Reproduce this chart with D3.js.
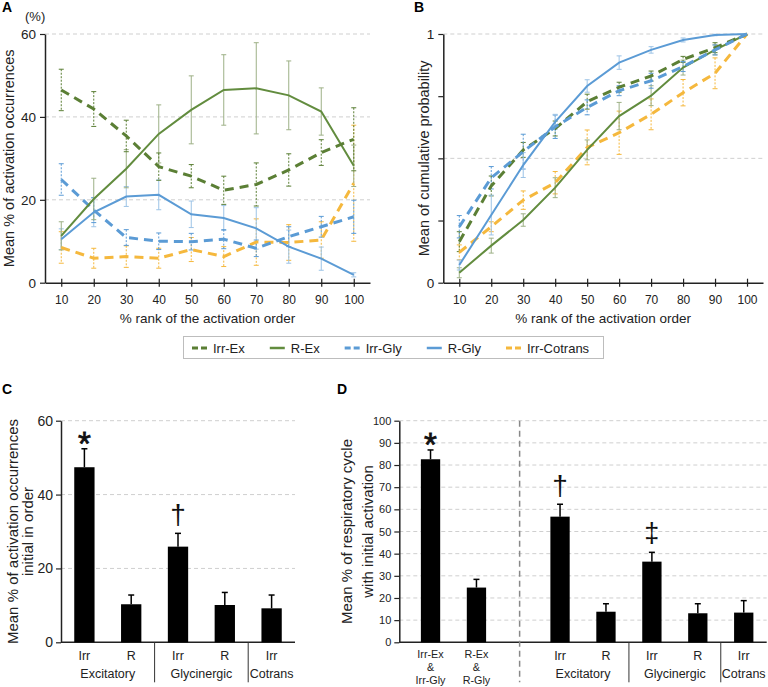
<!DOCTYPE html>
<html><head><meta charset="utf-8">
<script src="https://cdn.jsdelivr.net/npm/d3@7"></script>
<style>
body{margin:0;background:#fff;}
svg{display:block;font-family:'Liberation Sans',Arial,sans-serif;}
</style></head>
<body>
<svg id="c" width="768" height="687"></svg>
<script>
// ---------- DATA ----------
const ranks = [10,20,30,40,50,60,70,80,90,100];
const seriesNames = ["Irr-Ex","R-Ex","Irr-Gly","R-Gly","Irr-Cotrans"];

// Panel A: mean % of activation occurrences
const aIrrEx    = [46.5,41.9,35.4,28.0,25.7,22.3,23.7,27.2,31.4,34.6];
const aIrrExErr = [5.0,4.2,3.8,3.3,2.8,3.4,5.2,3.9,3.1,7.6];
const aREx      = [11.3,20.2,27.5,35.9,41.7,46.5,46.9,45.2,41.3,28.2];
const aRExErr   = [3.4,5.0,4.6,7.0,8.2,8.5,11.0,8.3,5.7,5.0];
const aIrrGly   = [24.9,17.5,10.9,10.0,9.9,10.5,8.3,11.1,13.5,15.9];
const aIrrGlyErr= [3.8,3.0,1.9,2.0,2.0,2.3,2.0,2.4,2.5,4.0];
const aRGly     = [10.5,17.0,20.8,21.2,16.5,15.6,13.1,8.7,5.8,1.9];
const aRGlyErr  = [2.5,3.5,2.4,3.6,3.2,3.0,5.0,4.0,2.8,0.5];
const aCot      = [8.5,5.9,6.3,5.9,8.0,6.3,9.8,9.7,10.3,24.0];
const aCotErr   = [3.8,2.4,2.6,2.4,2.9,2.4,5.6,4.3,4.4,14.0];

// Panel B: mean of cumulative probability
const bIrrEx    = [0.165,0.389,0.534,0.620,0.728,0.786,0.831,0.898,0.945,1];
const bIrrExErr = [0.04,0.04,0.03,0.03,0.03,0.02,0.02,0.012,0.02,0];
const bREx      = [0.040,0.149,0.252,0.382,0.534,0.670,0.752,0.865,0.936,1];
const bRExErr   = [0.02,0.03,0.025,0.04,0.04,0.055,0.04,0.03,0.02,0];
const bIrrGly   = [0.225,0.422,0.527,0.627,0.705,0.772,0.812,0.869,0.936,1];
const bIrrGlyErr= [0.045,0.045,0.07,0.047,0.03,0.02,0.03,0.02,0.02,0];
const bRGly     = [0.071,0.272,0.473,0.647,0.791,0.885,0.936,0.976,0.996,1];
const bRGlyErr  = [0.02,0.08,0.05,0.03,0.025,0.027,0.013,0.008,0.003,0];
const bCot      = [0.122,0.225,0.332,0.402,0.544,0.603,0.677,0.764,0.842,1];
const bCotErr   = [0.03,0.02,0.037,0.045,0.07,0.087,0.062,0.053,0.062,0];

// Panel C
const cSub    = ["Irr","R","Irr","R","Irr"];
const cGroups = ["Excitatory","Excitatory","Glycinergic","Glycinergic","Cotrans"];
const cVals   = [47.4,10.3,25.9,10.1,9.2];
const cErr    = [5.0,2.5,3.6,3.4,3.6];
const cMarks  = ["*","","†","",""];

// Panel D
const dSub    = [["Irr-Ex","&","Irr-Gly"],["R-Ex","&","R-Gly"],["Irr"],["R"],["Irr"],["R"],["Irr"]];
const dGroups = ["","","Excitatory","Excitatory","Glycinergic","Glycinergic","Cotrans"];
const dVals   = [82.6,24.7,56.7,13.8,36.4,13.1,13.4];
const dErr    = [4.2,3.7,5.6,3.6,4.2,4.3,5.4];
const dMarks  = ["*","","†","","‡","",""];

// ---------- STYLE / LAYOUT ----------
const GREEN_D="#5b7f35", GREEN="#628c3e", BLUE="#5b9bd5", ORANGE="#f5b83d";
const styles = {
  "Irr-Ex":     {c:GREEN_D, dash:"9,6", w:3,  ec:"#5b7f35", edash:"2,1.5"},
  "R-Ex":       {c:GREEN,   dash:null,  w:2,  ec:"#9db086", edash:null},
  "Irr-Gly":    {c:BLUE,    dash:"9,6", w:3,  ec:"#5b9bd5", edash:"2,1.5"},
  "R-Gly":      {c:BLUE,    dash:null,  w:2,  ec:"#9cc3e6", edash:null},
  "Irr-Cotrans":{c:ORANGE,  dash:"9,6", w:3,  ec:"#f5b83d", edash:"2,1.5"}
};
const dSlots = [0.18,1.18,3,4,5,6,7];
const dSepSlot = 2.12;

const svg = d3.select("#c");
const AX = "#222";

function grid(g, x0, x1, ys, y){
  g.selectAll(null).data(ys).join("line")
    .attr("x1",x0).attr("x2",x1).attr("y1",d=>y(d)).attr("y2",d=>y(d))
    .attr("stroke","#cfcfcf").attr("stroke-width",1).attr("stroke-dasharray","4,3");
}

function linePanel(opts){
  const {x0,x1,yTop,yBot,yMax,yTicks,yTickLabels,series,letter,letterX,title,titleX,pct} = opts;
  const g = svg.append("g");
  const x = d3.scalePoint().domain(ranks).range([x0,x1]).padding(0.5);
  const y = d3.scaleLinear().domain([0,yMax]).range([yBot,yTop]);
  grid(g, x0, x1, opts.grid, y);
  const ya = g.append("g").attr("transform",`translate(${x0},0)`)
    .call(d3.axisLeft(y).tickValues(yTicks).tickSize(5).tickSizeOuter(0).tickPadding(4)
      .tickFormat(d=>yTickLabels.includes(d)?d3.format("d")(d):""));
  ya.select(".domain").attr("stroke",AX).attr("stroke-width",1.5);
  ya.selectAll(".tick line").attr("stroke",AX).attr("stroke-width",1.2);
  ya.selectAll("text").attr("font-size",13.5).attr("fill","#222").attr("font-family","'Liberation Sans',Arial,sans-serif");
  const xa = g.append("g").attr("transform",`translate(0,${yBot})`)
    .call(d3.axisBottom(x).tickSizeInner(4).tickSizeOuter(0).tickPadding(9));
  xa.select(".domain").attr("stroke",AX).attr("stroke-width",1.5);
  xa.selectAll(".tick line").attr("y1",-4).attr("stroke",AX).attr("stroke-width",1.2);
  xa.selectAll("text").attr("font-size",12).attr("fill","#222").attr("font-family","'Liberation Sans',Arial,sans-serif");
  series.forEach(s=>{
    const st = styles[s.name];
    const eg = g.append("g");
    ranks.forEach((r,i)=>{
      const e = s.err[i]; if(!e) return;
      const cx = x(r), yt = y(s.v[i]+e), yb = y(s.v[i]-e);
      eg.append("line").attr("x1",cx).attr("x2",cx).attr("y1",yt).attr("y2",yb)
        .attr("stroke",st.ec).attr("stroke-width",1).attr("stroke-dasharray",st.edash);
      [yt,yb].forEach(yy=>eg.append("line").attr("x1",cx-2.5).attr("x2",cx+2.5).attr("y1",yy).attr("y2",yy)
        .attr("stroke",st.ec).attr("stroke-width",1));
    });
  });
  series.forEach(s=>{
    const st = styles[s.name];
    g.append("path").datum(ranks.map((r,i)=>[r,s.v[i]]))
      .attr("d", d3.line().x(d=>x(d[0])).y(d=>y(d[1])))
      .attr("fill","none").attr("stroke",st.c).attr("stroke-width",st.w)
      .attr("stroke-dasharray",st.dash);
  });
  g.append("text").attr("x",letterX).attr("y",12).attr("font-weight","bold").attr("font-size",14).text(letter);
  g.append("text").attr("x",(x0+x1)/2).attr("y",yBot+40).attr("text-anchor","middle")
    .attr("font-size",13.5).attr("fill","#222").text("% rank of the activation order");
  g.append("text").attr("transform",`translate(${titleX},${(yTop+yBot)/2}) rotate(-90)`)
    .attr("text-anchor","middle").attr("font-size",14.5).attr("fill","#222").text(title);
  if(pct) g.append("text").attr("x",x0-20).attr("y",21).attr("font-size",13).attr("fill","#222").text("(%)");
}

linePanel({x0:45,x1:370,yTop:34,yBot:282.7,yMax:60,yTicks:[0,20,40,60],yTickLabels:[0,20,40,60],grid:[20,40,60],
  letter:"A",letterX:2,title:"Mean % of activation occurrences",titleX:14,pct:true,
  series:[
    {name:"Irr-Cotrans",v:aCot,err:aCotErr},
    {name:"R-Gly",v:aRGly,err:aRGlyErr},
    {name:"Irr-Gly",v:aIrrGly,err:aIrrGlyErr},
    {name:"R-Ex",v:aREx,err:aRExErr},
    {name:"Irr-Ex",v:aIrrEx,err:aIrrExErr}]});

linePanel({x0:443.3,x1:763,yTop:34,yBot:282.7,yMax:1,yTicks:[0,0.25,0.5,0.75,1],yTickLabels:[0,1],grid:[0.5,1],
  letter:"B",letterX:414,title:"Mean of cumulative probability",titleX:428.5,pct:false,
  series:[
    {name:"Irr-Cotrans",v:bCot,err:bCotErr},
    {name:"R-Ex",v:bREx,err:bRExErr},
    {name:"Irr-Ex",v:bIrrEx,err:bIrrExErr},
    {name:"Irr-Gly",v:bIrrGly,err:bIrrGlyErr},
    {name:"R-Gly",v:bRGly,err:bRGlyErr}]});

// ---------- LEGEND ----------
(function(){
  const lg = svg.append("g");
  lg.append("rect").attr("x",183.5).attr("y",336.5).attr("width",420).attr("height",22)
    .attr("fill","#fff").attr("stroke","#bdbdbd").attr("stroke-width",1);
  let cx = 192;
  seriesNames.forEach(n=>{
    const st = styles[n];
    lg.append("line").attr("x1",cx).attr("x2",cx+15).attr("y1",348).attr("y2",348)
      .attr("stroke",st.c).attr("stroke-width",st.dash?3:2.5).attr("stroke-dasharray",st.dash?"6,3":null);
    const t = lg.append("text").attr("x",cx+21).attr("y",352.5).attr("font-size",13).attr("fill","#222").text(n);
    cx = cx + 21 + t.node().getComputedTextLength() + 25;
  });
})();

// ---------- BAR PANELS ----------
function barAxes(g, y, x0, x1, ticks, fs){
  grid(g, x0, x1, ticks.filter(d=>d>0), y);
  const ya = g.append("g").attr("transform",`translate(${x0},0)`)
    .call(d3.axisLeft(y).tickValues(ticks).tickSize(5).tickSizeOuter(0).tickPadding(3));
  ya.select(".domain").attr("stroke",AX).attr("stroke-width",1.5);
  ya.selectAll(".tick line").attr("stroke",AX).attr("stroke-width",1.2);
  ya.selectAll("text").attr("font-size",fs).attr("fill","#222").attr("font-family","'Liberation Sans',Arial,sans-serif");
  g.append("line").attr("x1",x0).attr("x2",x1).attr("y1",y(0)).attr("y2",y(0)).attr("stroke",AX).attr("stroke-width",1.5);
}
function bars(g, xs, bw, y, vals, errs, marks){
  vals.forEach((v,i)=>{
    const cx = xs[i];
    g.append("rect").attr("x",cx-bw/2).attr("y",y(v)).attr("width",bw).attr("height",y(0)-y(v)).attr("fill","#000");
    const yt = y(v+errs[i]);
    g.append("line").attr("x1",cx).attr("x2",cx).attr("y1",y(v)).attr("y2",yt).attr("stroke","#000").attr("stroke-width",1.5);
    g.append("line").attr("x1",cx-3).attr("x2",cx+3).attr("y1",yt).attr("y2",yt).attr("stroke","#000").attr("stroke-width",1.5);
    const m = marks[i];
    if(m==="*") g.append("text").attr("x",cx).attr("y",yt+6).attr("text-anchor","middle").attr("font-size",33)
      .attr("fill","#111").attr("stroke","#111").attr("stroke-width",0.8).text("*");
    if(m==="†") g.append("text").attr("x",cx).attr("y",yt-9).attr("text-anchor","middle").attr("font-size",28).attr("fill","#111").text("†");
    if(m==="‡") g.append("text").attr("x",cx).attr("y",yt-10).attr("text-anchor","middle").attr("font-size",27).attr("fill","#111").text("‡");
  });
}
function catLabels(g, xs, subs, groups, yb, fs){
  subs.forEach((s,i)=>{
    const arr = Array.isArray(s)?s:[s];
    const multi = arr.length>1;
    arr.forEach((t,k)=>g.append("text").attr("x",xs[i]).attr("y",multi?yb+16+k*12.6:yb+18).attr("text-anchor","middle")
      .attr("font-size",multi?10.8:fs).attr("fill","#222").text(t));
  });
  const names = [...new Set(groups.filter(d=>d))];
  names.forEach(n=>{
    const idx = groups.map((d,i)=>d===n?i:-1).filter(i=>i>=0);
    const c = (xs[idx[0]]+xs[idx[idx.length-1]])/2;
    g.append("text").attr("x",c).attr("y",yb+36).attr("text-anchor","middle").attr("font-size",fs).attr("fill","#222").text(n);
    const first = idx[0];
    if(first>0 && groups[first-1]){
      const sx = (xs[first-1]+xs[first])/2;
      g.append("line").attr("x1",sx).attr("x2",sx).attr("y1",yb).attr("y2",yb+40).attr("stroke","#333").attr("stroke-width",1);
    }
  });
}

// Panel C
(function(){
  const g = svg.append("g");
  const x0=61, x1=295, yTop=420.7, yBot=642.3;
  const x = d3.scaleBand().domain(d3.range(cVals.length)).range([x0,x1]).paddingInner(0.566).paddingOuter(0.283);
  const y = d3.scaleLinear().domain([0,60]).range([yBot,yTop]);
  barAxes(g, y, x0, x1, [0,20,40,60], 14);
  const xs = cVals.map((d,i)=>x(i)+x.bandwidth()/2);
  bars(g, xs, x.bandwidth(), y, cVals, cErr, cMarks);
  catLabels(g, xs, cSub, cGroups, yBot, 12.5);
  g.append("text").attr("x",2).attr("y",394).attr("font-weight","bold").attr("font-size",14).text("C");
  g.append("text").attr("transform",`translate(18,${(yTop+yBot)/2}) rotate(-90)`).attr("text-anchor","middle")
    .attr("font-size",15).attr("fill","#222").text("Mean % of activation occurrences");
  g.append("text").attr("transform",`translate(33,${(yTop+yBot)/2}) rotate(-90)`).attr("text-anchor","middle")
    .attr("font-size",15).attr("fill","#222").text("initial in order");
})();

// Panel D
(function(){
  const g = svg.append("g");
  const x0=399.3, x1=766.7, yTop=420.7, yBot=642.3;
  const x = d3.scaleLinear().domain([-0.5,7.5]).range([x0,x1]);
  const y = d3.scaleLinear().domain([0,100]).range([yBot,yTop]);
  barAxes(g, y, x0, x1, d3.range(0,101,10), 11);
  const xs = dSlots.map(s=>x(s));
  const sx = x(dSepSlot);
  g.append("line").attr("x1",sx).attr("x2",sx).attr("y1",yTop).attr("y2",yBot+40)
    .attr("stroke","#888").attr("stroke-width",1.5).attr("stroke-dasharray","6,4");
  bars(g, xs, 19.3, y, dVals, dErr, dMarks);
  catLabels(g, xs, dSub, dGroups, yBot, 12.5);
  g.append("text").attr("x",337).attr("y",394).attr("font-weight","bold").attr("font-size",14).text("D");
  g.append("text").attr("transform",`translate(352,${(yTop+yBot)/2}) rotate(-90)`).attr("text-anchor","middle")
    .attr("font-size",15).attr("fill","#222").text("Mean % of respiratory cycle");
  g.append("text").attr("transform",`translate(373,${(yTop+yBot)/2}) rotate(-90)`).attr("text-anchor","middle")
    .attr("font-size",15).attr("fill","#222").text("with initial activation");
})();
</script>
</body></html>
